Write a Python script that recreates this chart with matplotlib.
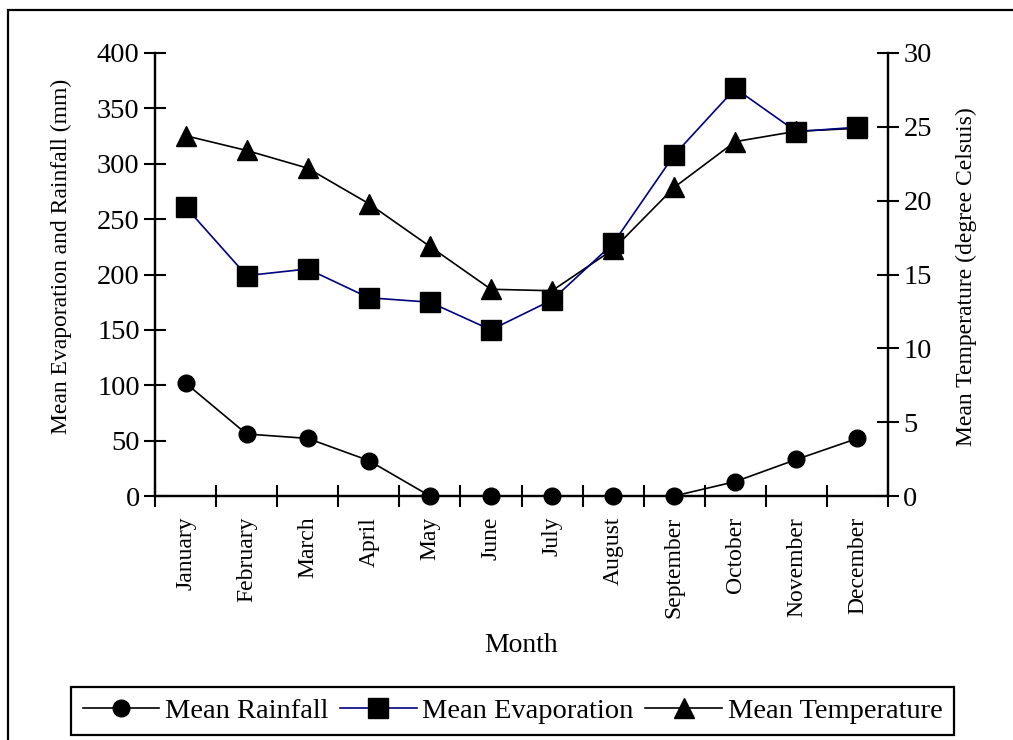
import matplotlib.pyplot as plt
from matplotlib.patches import Rectangle

plt.rcParams['font.family'] = ['Liberation Serif', 'DejaVu Serif']

months = ['January', 'February', 'March', 'April', 'May', 'June',
          'July', 'August', 'September', 'October', 'November', 'December']
rainfall = [102, 56, 52, 32, 0, 0, 0, 0, 0, 13, 33, 52]
evaporation = [261, 199, 205, 179, 175, 150, 177, 228, 308, 368, 329, 333]
temperature = [24.4, 23.4, 22.2, 19.8, 16.9, 14.0, 13.9, 16.7, 20.9, 24.0, 24.7, 24.9]

x = [i + 0.5 for i in range(len(months))]

fig = plt.figure(figsize=(10.13, 7.40), dpi=100)
ax = fig.add_axes([155 / 1013, 1 - 496 / 740, 733 / 1013, 443 / 740])
ax2 = ax.twinx()

# 온도는 오른쪽 축
l3, = ax2.plot(x, temperature, color='black', lw=1.2, marker='^', ms=15,
               label='Mean Temperature', clip_on=False)
l1, = ax.plot(x, rainfall, color='black', lw=1.2, marker='o', ms=12,
              label='Mean Rainfall', clip_on=False)
l2, = ax.plot(x, evaporation, color='#000080', lw=1.2, marker='s', ms=14,
              mfc='black', mec='black', label='Mean Evaporation', clip_on=False)

# 왼쪽 축을 위로 (사각형이 삼각형 위에 보이도록)
ax.set_zorder(ax2.get_zorder() + 1)
ax.patch.set_visible(False)

ax.set_xlim(0, 12)
ax.set_ylim(0, 400)
ax2.set_ylim(0, 30)
ax.set_yticks(range(0, 401, 50))
ax2.set_yticks(range(0, 31, 5))

ax.set_xticks(range(0, 13))
ax.set_xticklabels([])
ax.set_xticks(x, minor=True)
ax.set_xticklabels(months, minor=True, rotation=90, fontsize=17)
ax.tick_params(axis='x', which='minor', length=0, pad=15)
ax.tick_params(axis='x', which='major', direction='inout', length=16, width=1.5)
ax.tick_params(axis='y', direction='inout', length=16, width=1.5, labelsize=20.5, pad=3)
ax2.tick_params(axis='y', direction='inout', length=16, width=1.5, labelsize=20.5, pad=3)

for a in (ax, ax2):
    a.spines['top'].set_visible(False)
    for s in ('left', 'right', 'bottom'):
        a.spines[s].set_linewidth(1.6)

ax.set_ylabel('Mean Evaporation and Rainfall (mm)', fontsize=17)
ax.yaxis.set_label_coords(-0.113, 0.54)
ax2.set_ylabel('Mean Temperature (degree Celsuis)', fontsize=17)
ax2.yaxis.set_label_coords(1.093, 0.495)
ax.set_xlabel('Month', fontsize=20)
ax.xaxis.set_label_coords(0.5, -0.309)

leg = fig.legend([l1, l2, l3], ['Mean Rainfall', 'Mean Evaporation', 'Mean Temperature'],
                 loc='center', bbox_to_anchor=(0.506, 0.039), ncol=3, fontsize=20.5,
                 frameon=True, fancybox=False, edgecolor='black', framealpha=1,
                 handlelength=2.7, handletextpad=0.2, columnspacing=0.4,
                 borderpad=0.4, borderaxespad=0)
leg.get_frame().set_linewidth(1.6)

# 바깥 테두리
fig.patches.append(Rectangle((8 / 1013, -0.05), 1.05, 1.05 - 10 / 740,
                             transform=fig.transFigure, fill=False,
                             edgecolor='black', lw=1.6))

fig.savefig('out.png', dpi=100)
